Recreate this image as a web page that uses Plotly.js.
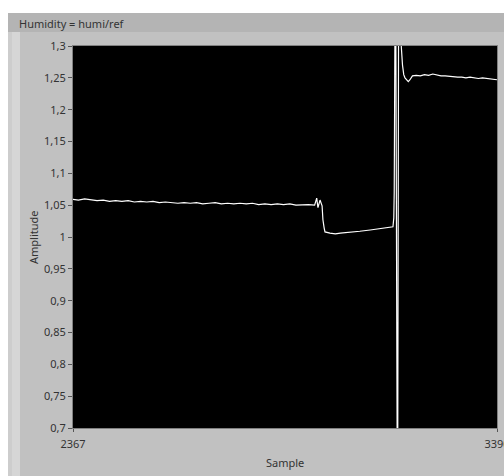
<!DOCTYPE html>
<html>
<head>
<meta charset="utf-8">
<script src="https://cdn.plot.ly/plotly-3.0.1.min.js"></script>
<style>html,body{margin:0;padding:0;background:#fff;}#chart{width:504px;height:476px;}</style>
</head>
<body>
<div id="chart"></div>
<script>
var sampleIdx = [
  2367,2380,2395,2410,2425,2440,2455,2470,2485,2500,2515,2530,2545,2560,2575,2590,2605,2620,2635,2650,
  2665,2680,2695,2710,2725,2740,2755,2770,2785,2800,2815,2830,2845,2860,2875,2890,2905,2920,2935,2950,
  2955,2958,2963,2968,2970,2973,2975,2987,3000,3012,3035,3059,3084,3108,3132,3139,3141,3142,
  3145,3150,3153,3158,3162,3165,3168,3172,3176,3180,3186,3195,3205,3215,3225,3235,3245,3255,3265,
  3275,3285,3295,3305,3315,3325,3335,3345,3355,3365,3375,3385,3390
];
var amplitude = [
  1.059,1.058,1.060,1.058,1.057,1.058,1.056,1.057,1.056,1.057,1.055,1.056,1.055,1.056,1.054,1.055,1.054,1.053,1.054,1.053,
  1.054,1.052,1.053,1.054,1.052,1.053,1.052,1.053,1.052,1.053,1.051,1.052,1.051,1.052,1.051,1.052,1.050,1.051,1.051,1.050,
  1.061,1.046,1.058,1.049,1.027,1.014,1.008,1.006,1.005,1.006,1.008,1.009,1.011,1.013,1.016,1.016,1.030,1.070,
  1.50,0.50,1.50,1.31,1.27,1.255,1.250,1.246,1.244,1.247,1.253,1.254,1.253,1.255,1.254,1.256,1.254,1.253,1.253,
  1.252,1.252,1.251,1.251,1.250,1.251,1.250,1.249,1.250,1.249,1.249,1.248,1.247
];
var yTickVals = [0.7,0.75,0.8,0.85,0.9,0.95,1,1.05,1.1,1.15,1.2,1.25,1.3];
var yTickText = ['0,7','0,75','0,8','0,85','0,9','0,95','1','1,05','1,1','1,15','1,2','1,25','1,3'];
var xTickVals = [2367,3390];
var xTickText = ['2367','3390'];

var W=504,H=476,L=73,R=497,T=46,B=428;
function px(x){return (x-L)/(R-L);}
function py(y){return (B-y)/(B-T);}
var font = {family:'"Noto Sans", "Open Sans", sans-serif', size:11, color:'#333'};

var trace = {x:sampleIdx, y:amplitude, type:'scatter', mode:'lines',
  line:{color:'#ffffff', width:1.2}, hoverinfo:'skip'};

var layout = {
  width:W, height:H,
  margin:{l:L, r:W-R, t:T, b:H-B, pad:0},
  paper_bgcolor:'#c1c1c1', plot_bgcolor:'#000000',
  showlegend:false, font:font,
  xaxis:{range:[2367,3390], tickvals:xTickVals, ticktext:xTickText, ticks:'outside', ticklen:3,
    tickcolor:'#555', showgrid:false, zeroline:false, showline:true, linecolor:'#808080', linewidth:1,
    mirror:true, tickfont:font, fixedrange:true, ticklabeloverflow:'allow', ticklabelstandoff:3},
  yaxis:{range:[0.7,1.3], tickvals:yTickVals, ticktext:yTickText, ticks:'outside', ticklen:4,
    tickcolor:'#555', showgrid:false, zeroline:false, showline:true, linecolor:'#808080', linewidth:1,
    mirror:true, tickfont:font, fixedrange:true},
  shapes:[
    {type:'rect', xref:'paper', yref:'paper', x0:px(0), x1:px(W), y0:py(0), y1:py(13), fillcolor:'#ffffff', line:{width:0}, layer:'below'},
    {type:'rect', xref:'paper', yref:'paper', x0:px(8), x1:px(W), y0:py(13), y1:py(32), fillcolor:'#b4b4b4', line:{width:0}, layer:'below'},
    {type:'rect', xref:'paper', yref:'paper', x0:px(0), x1:px(8), y0:py(13), y1:py(H), fillcolor:'#ffffff', line:{width:0}, layer:'below'},
    {type:'rect', xref:'paper', yref:'paper', x0:px(8), x1:px(12), y0:py(32), y1:py(H), fillcolor:'#cdcdcd', line:{width:0}, layer:'below'},
    {type:'rect', xref:'paper', yref:'paper', x0:px(12), x1:px(20), y0:py(32), y1:py(H), fillcolor:'#d6d6d6', line:{width:0}, layer:'below'}
  ],
  annotations:[
    {text:'Humidity = humi/ref', xref:'paper', yref:'paper', x:px(17), y:py(23), xanchor:'left', yanchor:'middle', showarrow:false, font:font},
    {text:'Amplitude', xref:'paper', yref:'paper', x:px(33), y:py(237), xanchor:'center', yanchor:'middle', textangle:-90, showarrow:false, font:font},
    {text:'Sample', xref:'paper', yref:'paper', x:px(285), y:py(463), xanchor:'center', yanchor:'middle', showarrow:false, font:font}
  ]
};
Plotly.newPlot('chart',[trace],layout,{staticPlot:true, displayModeBar:false});
</script>
</body>
</html>
